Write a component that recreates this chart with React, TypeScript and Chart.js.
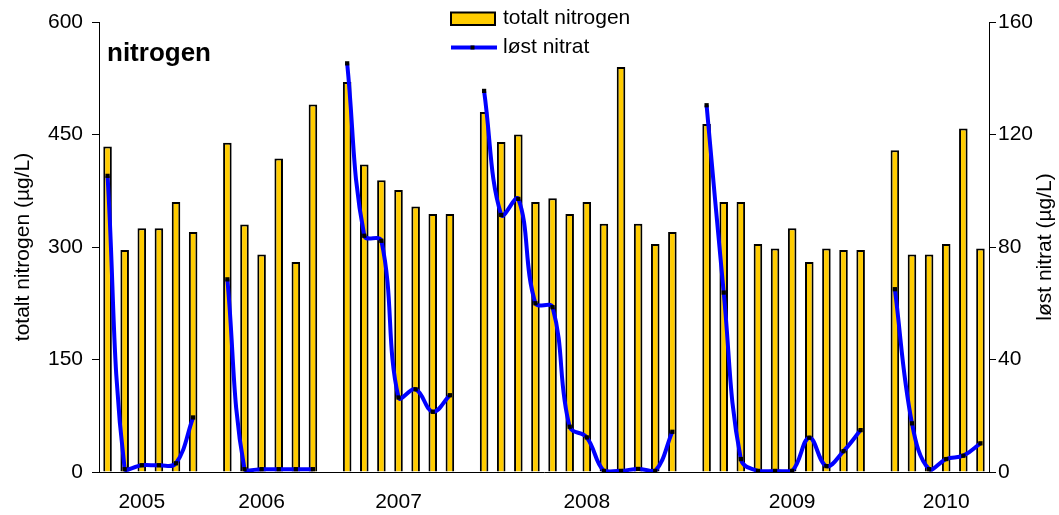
import React, { useEffect, useRef } from 'react';
import { Chart, registerables } from 'chart.js';

Chart.register(...registerables);

const FONT = "'Liberation Sans', Arial, Helvetica, sans-serif";

// Year groups (samples per year); an empty category separates the years
const years = ['2005', '2006', '2007', '2008', '2009', '2010'];
const yearTickIndex = [2, 9, 17, 28, 40, 49];

// totalt nitrogen (µg/L), left axis
const nitrogen2005 = [434, 296, 325, 325, 360, 320];
const nitrogen2006 = [439, 330, 290, 418, 280, 490];
const nitrogen2007 = [520, 410, 389, 376, 354, 344, 344];
const nitrogen2008 = [480, 440, 450, 360, 365, 344, 360, 331, 540, 331, 304, 320];
const nitrogen2009 = [464, 360, 360, 304, 298, 325, 280, 298, 296, 296];
const nitrogen2010 = [429, 290, 290, 304, 458, 298];

// løst nitrat (µg/L), right axis
const nitrate2005 = [105.3, 1, 2.4, 2.4, 3.1, 19.4];
const nitrate2006 = [68.5, 1, 1, 1, 1, 1];
const nitrate2007 = [145.3, 84, 82.2, 26.5, 29.4, 21.4, 27.3];
const nitrate2008 = [135.5, 91.4, 97.1, 60, 58.6, 16.1, 12.3, 0.4, 0.4, 1.1, 0.4, 14.3];
const nitrate2009 = [130.4, 63.8, 4.6, 0.4, 0.4, 0.4, 12.2, 2.1, 7.4, 14.9];
const nitrate2010 = [65, 17.3, 1, 4.6, 5.8, 10.2];

const leftTicks = [0, 150, 300, 450, 600];
const rightTicks = [0, 40, 80, 120, 160];

const leftTitle = 'totalt nitrogen (µg/L)';
const rightTitle = 'løst nitrat (µg/L)';
const chartTitle = 'nitrogen';
const legendBar = 'totalt nitrogen';
const legendLine = 'løst nitrat';

function joinGroups(groups: number[][]): (number | null)[] {
  const out: (number | null)[] = [];
  groups.forEach((g, i) => {
    if (i > 0) out.push(null);
    out.push(...g);
  });
  return out;
}

const nitrogenData = joinGroups([nitrogen2005, nitrogen2006, nitrogen2007, nitrogen2008, nitrogen2009, nitrogen2010]);
const nitrateData = joinGroups([nitrate2005, nitrate2006, nitrate2007, nitrate2008, nitrate2009, nitrate2010]);
const xLabels: string[] = nitrogenData.map((_, i) => {
  const k = yearTickIndex.indexOf(i);
  return k >= 0 ? years[k] : '';
});

const overlayPlugin = {
  id: 'overlay',
  afterDraw(chart: any) {
    const ctx = chart.ctx as CanvasRenderingContext2D;
    const ca = chart.chartArea;
    ctx.save();
    // chart title
    ctx.fillStyle = '#000';
    ctx.font = `bold 26px ${FONT}`;
    ctx.textAlign = 'left';
    ctx.textBaseline = 'alphabetic';
    ctx.fillText(chartTitle, ca.left + 8, 61);

    // legend
    ctx.fillStyle = '#FFCC00';
    ctx.fillRect(451, 12.5, 44, 12.5);
    ctx.strokeStyle = '#000';
    ctx.lineWidth = 2;
    ctx.strokeRect(451, 12.5, 44, 12.5);
    ctx.strokeStyle = '#0000FF';
    ctx.lineWidth = 4;
    ctx.beginPath();
    ctx.moveTo(451, 47.5);
    ctx.lineTo(497, 47.5);
    ctx.stroke();
    ctx.fillStyle = '#000';
    ctx.fillRect(470.5, 45.5, 4, 4);
    ctx.font = `21px ${FONT}`;
    ctx.textBaseline = 'middle';
    ctx.fillText(legendBar, 503, 18);
    ctx.fillText(legendLine, 503, 47);

    // axis titles
    const cy = (ca.top + ca.bottom) / 2;
    ctx.textAlign = 'center';
    ctx.font = `21px ${FONT}`;
    ctx.save();
    ctx.translate(23, cy);
    ctx.rotate(-Math.PI / 2);
    ctx.fillText(leftTitle, 0, 0);
    ctx.restore();
    ctx.save();
    ctx.translate(1045, cy);
    ctx.rotate(-Math.PI / 2);
    ctx.fillText(rightTitle, 0, 0);
    ctx.restore();
    ctx.restore();
  },
};

export default function App() {
  const ref = useRef<HTMLCanvasElement | null>(null);
  useEffect(() => {
    if (!ref.current) return;
    const chart = new Chart(ref.current, {
      type: 'bar',
      data: {
        labels: xLabels,
        datasets: [
          {
            type: 'line',
            label: legendLine,
            data: nitrateData,
            yAxisID: 'y1',
            borderColor: '#0000FF',
            borderWidth: 4,
            tension: 0.4,
            spanGaps: false,
            pointStyle: 'rect',
            pointRadius: 3,
            pointBorderWidth: 0,
            pointBackgroundColor: '#000',
            pointBorderColor: '#000',
            order: 0,
          } as any,
          {
            type: 'bar',
            label: legendBar,
            data: nitrogenData,
            yAxisID: 'y',
            backgroundColor: '#FFCC00',
            borderColor: '#000',
            borderWidth: 2,
            barPercentage: 0.5,
            categoryPercentage: 1,
            order: 1,
          },
        ],
      },
      options: {
        responsive: false,
        animation: false,
        layout: { padding: { top: 22, left: 0, right: 0, bottom: 0 } },
        plugins: {
          legend: { display: false },
          tooltip: { enabled: false },
          title: { display: false },
        },
        font: { family: FONT },
        scales: {
          x: {
            type: 'category',
            grid: { display: false, drawTicks: false },
            border: { display: true, color: '#000', width: 1 },
            ticks: {
              autoSkip: false,
              maxRotation: 0,
              padding: 18,
              color: '#000',
              font: { family: FONT, size: 21 },
            },
            afterFit: (s: any) => { s.height = 43; },
          },
          y: {
            type: 'linear',
            position: 'left',
            min: 0,
            max: 600,
            afterBuildTicks: (s: any) => { s.ticks = leftTicks.map((v) => ({ value: v })); },
            grid: { display: true, drawOnChartArea: false, drawTicks: true, tickLength: 7, color: '#000' },
            border: { display: true, color: '#000', width: 1 },
            ticks: { padding: 9, color: '#000', font: { family: FONT, size: 21 } },
            afterFit: (s: any) => { s.width = 99; },
          },
          y1: {
            type: 'linear',
            position: 'right',
            min: 0,
            max: 160,
            afterBuildTicks: (s: any) => { s.ticks = rightTicks.map((v) => ({ value: v })); },
            grid: { display: true, drawOnChartArea: false, drawTicks: true, tickLength: 7, color: '#000' },
            border: { display: true, color: '#000', width: 1 },
            ticks: { padding: 2, color: '#000', font: { family: FONT, size: 21 } },
            afterFit: (s: any) => { s.width = 70; },
          },
        },
      } as any,
      plugins: [overlayPlugin],
    });
    return () => chart.destroy();
  }, []);

  return (
    <div style={{ position: 'absolute', left: 0, top: 0, width: 1059, height: 515, background: '#fff' }}>
      <canvas ref={ref} width={1059} height={515} style={{ display: 'block', width: 1059, height: 515 }} />
    </div>
  );
}
